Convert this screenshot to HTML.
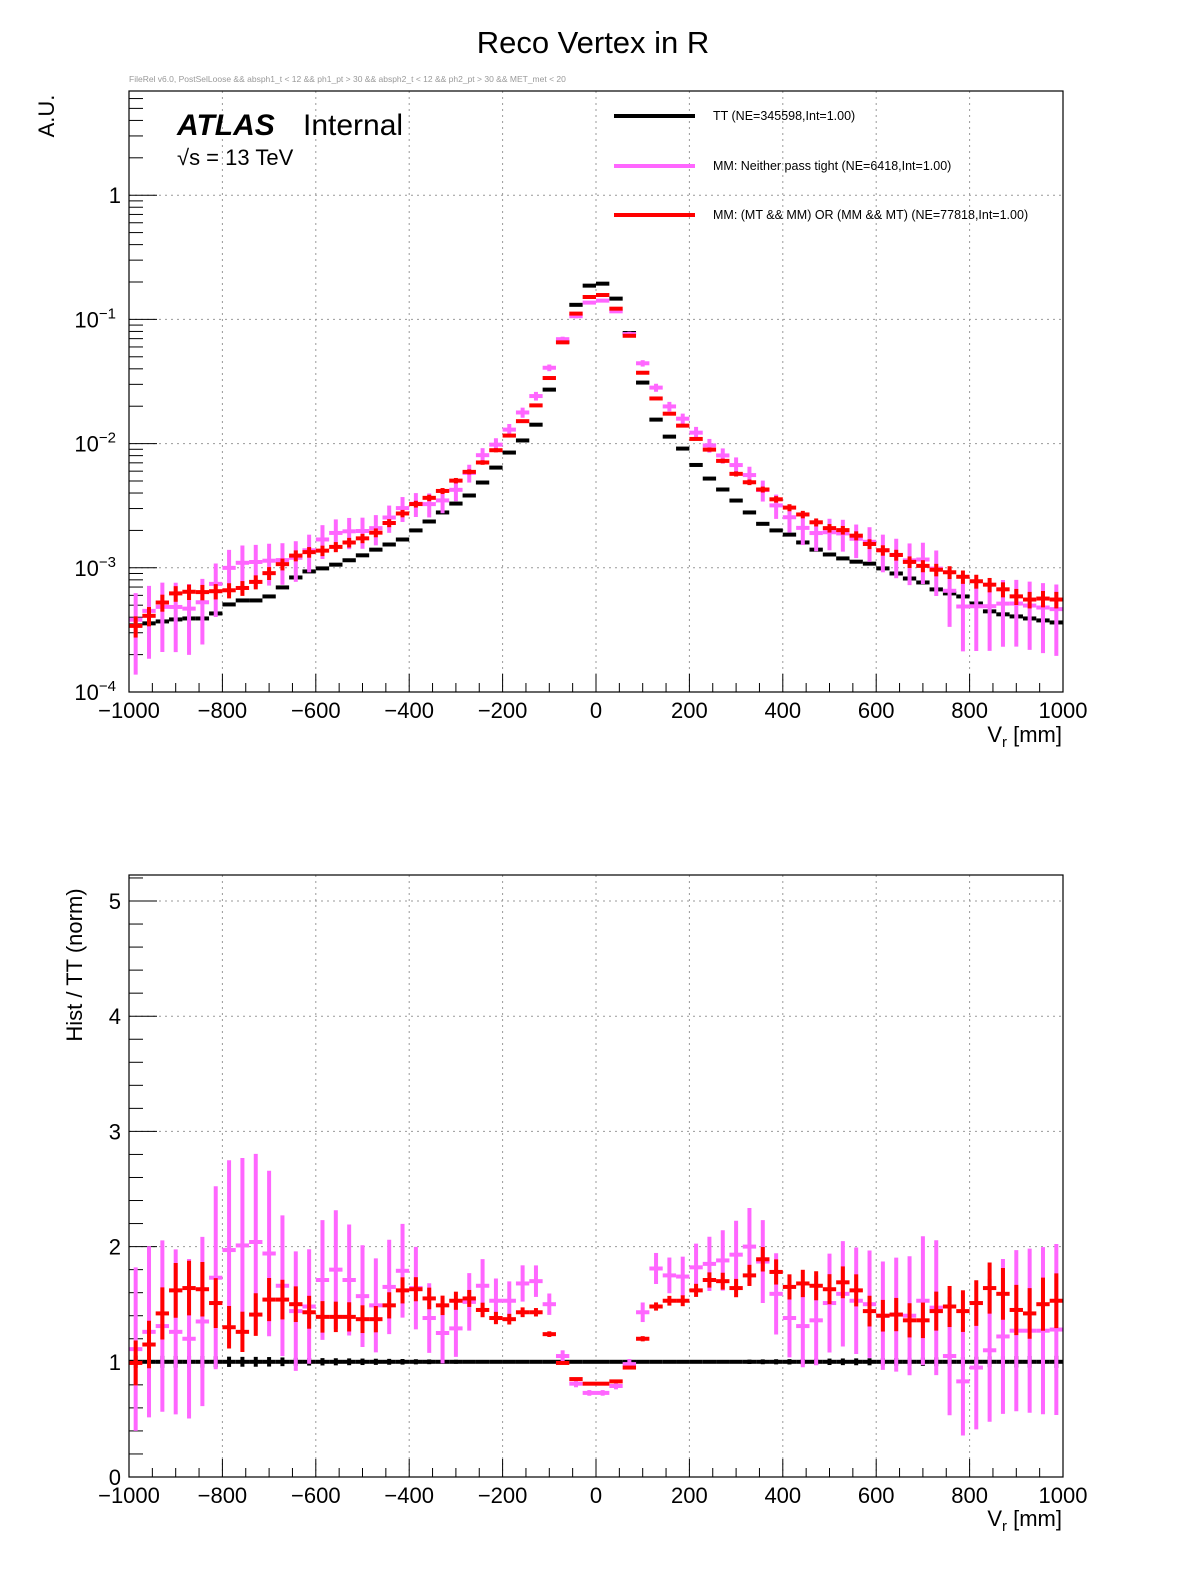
<!DOCTYPE html>
<html><head><meta charset="utf-8">
<style>
html,body{margin:0;padding:0;background:#fff;}
svg{display:block;font-family:"Liberation Sans",sans-serif;}
</style></head>
<body>
<svg id="chart" width="1196" height="1572" viewBox="0 0 1196 1572" xmlns="http://www.w3.org/2000/svg">
<rect x="0" y="0" width="1196" height="1572" fill="#fff"/>
<text x="593" y="53" font-size="31" text-anchor="middle">Reco Vertex in R</text>
<text x="129" y="82" font-size="8.5" fill="#999">FileRel v6.0, PostSelLoose &amp;&amp; absph1_t &lt; 12 &amp;&amp; ph1_pt &gt; 30 &amp;&amp; absph2_t &lt; 12 &amp;&amp; ph2_pt &gt; 30 &amp;&amp; MET_met &lt; 20</text>
<g id="topPanel"></g>
<g id="botPanel"></g>
<text transform="translate(54,116) rotate(-90)" font-size="22" text-anchor="middle">A.U.</text>
<text transform="translate(82,965) rotate(-90)" font-size="22" text-anchor="middle">Hist / TT (norm)</text>
<text x="1062" y="742" font-size="22" text-anchor="end">V<tspan font-size="15" dy="5">r</tspan><tspan dy="-5"> [mm]</tspan></text>
<text x="1062" y="1526" font-size="22" text-anchor="end">V<tspan font-size="15" dy="5">r</tspan><tspan dy="-5"> [mm]</tspan></text>
<text x="177" y="135" font-size="30" font-weight="bold" font-style="italic">ATLAS</text>
<text x="303" y="135" font-size="30">Internal</text>
<text x="177" y="165" font-size="22">√s = 13 TeV</text>
<g>
<line x1="614" y1="116" x2="695" y2="116" stroke="#000" stroke-width="4"/>
<text x="713" y="120" font-size="12.5">TT (NE=345598,Int=1.00)</text>
<line x1="614" y1="166" x2="695" y2="166" stroke="#ff66ff" stroke-width="4"/>
<text x="713" y="170" font-size="12.5">MM: Neither pass tight (NE=6418,Int=1.00)</text>
<line x1="614" y1="215" x2="695" y2="215" stroke="#ff0000" stroke-width="4"/>
<text x="713" y="219" font-size="12.5">MM: (MT &amp;&amp; MM) OR (MM &amp;&amp; MT) (NE=77818,Int=1.00)</text>
</g>
</svg>
<script>
// ---- data ----
const binEdgesRange = [-1000, 1000];
const nBins = 70;
const ttValues = [3.44e-4,3.57e-4,3.70e-4,3.84e-4,3.91e-4,3.91e-4,4.29e-4,5.07e-4,5.46e-4,5.46e-4,
5.88e-4,6.95e-4,8.36e-4,9.35e-4,9.89e-4,1.06e-3,1.15e-3,1.26e-3,1.40e-3,1.54e-3,
1.69e-3,2.0e-3,2.36e-3,2.79e-3,3.29e-3,3.82e-3,4.86e-3,6.41e-3,8.47e-3,1.06e-2,
1.42e-2,2.72e-2,6.6e-2,0.131,0.187,0.194,0.147,0.0777,0.031,0.0156,
0.01138,9.12e-3,6.73e-3,5.23e-3,4.27e-3,3.48e-3,2.79e-3,2.26e-3,2.0e-3,1.85e-3,
1.60e-3,1.40e-3,1.28e-3,1.19e-3,1.12e-3,1.08e-3,9.89e-4,9.0e-4,8.2e-4,7.62e-4,
6.7e-4,6.22e-4,5.88e-4,5.16e-4,4.46e-4,4.22e-4,4.06e-4,3.91e-4,3.77e-4,3.63e-4];
const ratioMixed = [0.99,1.15,1.42,1.62,1.64,1.63,1.51,1.30,1.26,1.41,
1.54,1.54,1.50,1.43,1.39,1.39,1.39,1.37,1.37,1.49,
1.62,1.63,1.55,1.49,1.53,1.55,1.45,1.38,1.37,1.43,
1.43,1.24,0.99,0.85,0.81,0.81,0.83,0.95,1.20,1.48,
1.53,1.53,1.62,1.71,1.70,1.64,1.75,1.89,1.78,1.65,
1.68,1.66,1.63,1.69,1.62,1.44,1.40,1.41,1.36,1.36,
1.44,1.48,1.44,1.51,1.64,1.59,1.45,1.42,1.50,1.53];
const ratioNeither = [1.11,1.26,1.31,1.26,1.20,1.35,1.73,1.97,2.01,2.04,
1.94,1.66,1.44,1.48,1.71,1.80,1.71,1.57,1.49,1.65,
1.79,1.64,1.38,1.25,1.29,1.52,1.66,1.53,1.53,1.68,
1.70,1.50,1.05,0.81,0.73,0.73,0.79,0.98,1.43,1.81,
1.75,1.74,1.82,1.85,1.88,1.93,2.00,1.87,1.59,1.38,
1.31,1.36,1.51,1.59,1.53,1.50,1.40,1.41,1.40,1.53,
1.47,1.05,0.83,0.95,1.10,1.22,1.27,1.27,1.27,1.28];
const nEvents = [345598, 6418, 77818];
const xTickLabels = ["−1000","−800","−600","−400","−200","0","200","400","600","800","1000"];
const xTickValues = [-1000,-800,-600,-400,-200,0,200,400,600,800,1000];
const ratioTickValues = [0,1,2,3,4,5];
const logDecades = [-4,-3,-2,-1,0];

// ---- scales ----
const NS="http://www.w3.org/2000/svg";
const X0=129,X1=1063;
const xs=v=>X0+(v-binEdgesRange[0])*(X1-X0)/(binEdgesRange[1]-binEdgesRange[0]);
const TT=91,TB=692,DEC=124.2;
const yTop=v=>TB-(Math.log10(v)+4)*DEC;
const BT=875,BB=1477,UNIT=115.2;
const yBot=r=>BB-r*UNIT;
const bw=(binEdgesRange[1]-binEdgesRange[0])/nBins;
const center=i=>binEdgesRange[0]+(i+0.5)*bw;
function mk(tag,attrs,parent){const e=document.createElementNS(NS,tag);for(const k in attrs)e.setAttribute(k,attrs[k]);parent.appendChild(e);return e;}
const topG=document.getElementById('topPanel'), botG=document.getElementById('botPanel');

function frame(g,yT,yB){
  xTickValues.slice(1,-1).forEach(v=>{const l=mk('line',{x1:xs(v),x2:xs(v),y1:yT,y2:yB,stroke:'#999','stroke-dasharray':'2,4','stroke-width':1},g);
  
  });
  for(let v=-1000;v<=1000;v+=50){const major=(v%200===0);const l=mk('line',{x1:xs(v),x2:xs(v),y1:yB,y2:yB-(major?18:9),stroke:'#000','stroke-width':1},g);
  
  }
  xTickValues.forEach((v,k)=>{const t=mk('text',{x:xs(v),y:yB+26,'font-size':22,'text-anchor':'middle'},g);t.textContent=xTickLabels[k];
  
  });
}
function rectBox(g,yT,yB){const r=mk('rect',{x:X0,y:yT,width:X1-X0,height:yB-yT,fill:'none',stroke:'#000','stroke-width':1.2},g);

}

// ---- top panel ----
frame(topG,TT,TB);
logDecades.slice(1).forEach(d=>{const y=yTop(Math.pow(10,d));const l=mk('line',{x1:X0,x2:X1,y1:y,y2:y,stroke:'#999','stroke-dasharray':'2,4','stroke-width':1},topG);

});
logDecades.forEach(d=>{
  for(let m=1;m<=9;m++){const v=m*Math.pow(10,d);const y=yTop(v);if(y<TT)break;
    const l=mk('line',{x1:X0,x2:X0+(m===1?28:14),y1:y,y2:y,stroke:'#000','stroke-width':1},topG);
    
    }
  const y=yTop(Math.pow(10,d));
  const t=mk('text',{x:d===0?121:116,y:y+8,'font-size':22,'text-anchor':'end'},topG);
  
  
  if(d===0){t.textContent='1';}else{t.textContent='10';const s=mk('tspan',{dy:-9,'font-size':15},t);s.textContent='−'+(-d);}
});
function clipY(y,a,b){return Math.max(a,Math.min(b,y));}
function drawSeries(g,vals,N,color,thick,name,isTop,nEff){
  vals.forEach((v,i)=>{
    const cx=xs(center(i)),xl=xs(center(i)-bw/2),xr=xs(center(i)+bw/2);
    let yc,ylo,yhi;
    if(isTop){
      const rel=1/Math.sqrt(N*v);
      yc=yTop(v);yhi=clipY(yTop(v*(1+rel)),TT,TB);ylo=v*(1-rel)>0?clipY(yTop(v*(1-rel)),TT,TB):TB;
    }else{
      const base=ttValues[i];
      const rel=Math.sqrt(1/(N*base*v)+1/(nEff*base));
      const err=v*rel;
      yc=yBot(v);yhi=clipY(yBot(v+err),BT,BB);ylo=clipY(yBot(v-err),BT,BB);
    }
    if(ylo-yhi>thick){const l=mk('line',{x1:cx,x2:cx,y1:yhi,y2:ylo,stroke:color,'stroke-width':4},g);
      
      }
    const h=mk('line',{x1:xl,x2:xr,y1:yc,y2:yc,stroke:color,'stroke-width':thick},g);
    
    
  });
}
const ttEff=3e6;
drawSeries(topG,ttValues,ttEff,'#000',4,'tt-point',true);
drawSeries(topG,ttValues.map((v,i)=>v*ratioNeither[i]),nEvents[1],'#ff66ff',4,'mm-neither-point',true);
drawSeries(topG,ttValues.map((v,i)=>v*ratioMixed[i]),nEvents[2],'#ff0000',4,'mm-mixed-point',true);
rectBox(topG,TT,TB);

// ---- ratio panel ----
frame(botG,BT,BB);
ratioTickValues.slice(1).forEach(r=>{const y=yBot(r);const l=mk('line',{x1:X0,x2:X1,y1:y,y2:y,stroke:'#999','stroke-dasharray':'2,4','stroke-width':1},botG);

});
for(let k=0;k<=26;k++){const r=k*0.2;const y=yBot(r);if(y<BT)break;const major=(k%5===0);
  const l=mk('line',{x1:X0,x2:X0+(major?28:14),y1:y,y2:y,stroke:'#000','stroke-width':1},botG);
  
  }
ratioTickValues.forEach(r=>{const t=mk('text',{x:121,y:yBot(r)+8,'font-size':22,'text-anchor':'end'},botG);t.textContent=String(r);
  
  });
drawSeries(botG,ttValues.map(()=>1),1e6,'#000',4,'tt-ratio',false,1e12);
drawSeries(botG,ratioNeither,nEvents[1],'#ff66ff',4,'mm-neither-ratio',false,ttEff);
drawSeries(botG,ratioMixed,nEvents[2],'#ff0000',4,'mm-mixed-ratio',false,ttEff);
rectBox(botG,BT,BB);
</script>
</body></html>
